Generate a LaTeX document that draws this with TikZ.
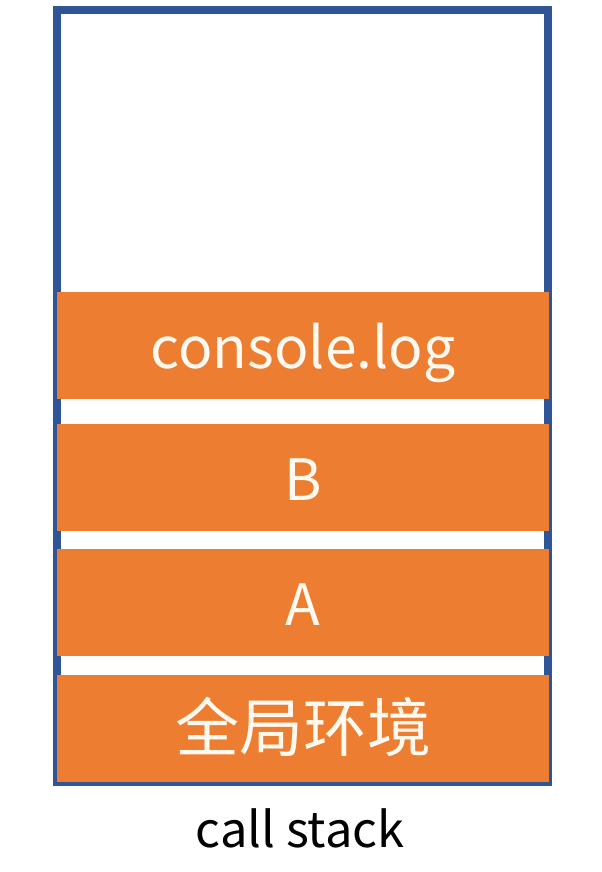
\documentclass[tikz,border=0pt]{standalone}
\usepackage{fontspec}
\setmainfont{Noto Sans CJK SC}
\definecolor{stackblue}{HTML}{2F5597}
\definecolor{frameorange}{HTML}{ED7D31}
\definecolor{labelcream}{HTML}{FFF9F0}

\begin{document}
\begin{tikzpicture}[x=0.5pt, y=-0.5pt,
    frame/.style={fill=frameorange, draw=none, inner sep=0pt,
      minimum width=246pt, minimum height=53.5pt,
      text height=29pt, text depth=6pt,
      text=labelcream, font=\fontsize{28.5}{34}\selectfont},
    cjkframe/.style={frame, font=\fontsize{32}{38}\selectfont}]
  \useasboundingbox (0,0) rectangle (601,872);
  % the stack itself
  \draw[stackblue, line width=4pt] (57,10) rectangle (547.5,782);

  % frames, top to bottom
  \node[frame] (consolelog) at (303,345.5) {console.log};
  \node[frame] (fnB) at (303,477) {B};
  \node[frame] (fnA) at (303,602) {A};
  \node[cjkframe] (globalenv) at (303,728.5) {全局环境};

  \node[anchor=base, font=\fontsize{24.4}{29}\selectfont] (caption) at (300,847) {call stack};
\end{tikzpicture}
\end{document}
